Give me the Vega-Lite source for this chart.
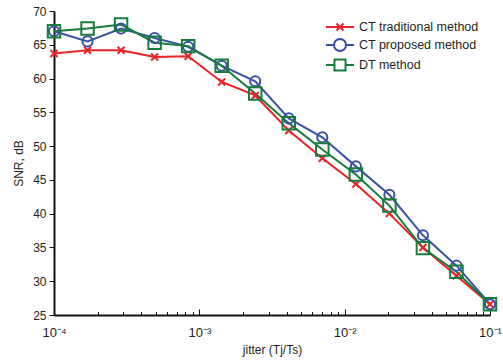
{
  "$schema": "https://vega.github.io/schema/vega-lite/v6.json",
  "autosize": "none",
  "width": 436,
  "height": 304,
  "padding": {"left": 54, "top": 11, "right": 13, "bottom": 45},
  "config": {
    "view": {"stroke": null},
    "font": "Liberation Sans",
    "axis": {"grid": false, "domainColor": "#111111", "domainWidth": 2, "tickColor": "#111111", "labelColor": "#231f20", "titleColor": "#231f20", "labelFontSize": 12, "titleFontSize": 12, "titleFontWeight": "normal", "labelFont": "Liberation Sans", "titleFont": "Liberation Sans"},
    "legend": {"labelFont": "Liberation Sans", "labelFontSize": 12.5, "labelColor": "#231f20"}
  },
  "data": {
    "values": [
      {"x": 0.0001, "series": "CT traditional method", "snr": 63.7},
      {"x": 0.0001701, "series": "CT traditional method", "snr": 64.2},
      {"x": 0.0002894, "series": "CT traditional method", "snr": 64.2},
      {"x": 0.0004924, "series": "CT traditional method", "snr": 63.2},
      {"x": 0.0008377, "series": "CT traditional method", "snr": 63.3},
      {"x": 0.001425, "series": "CT traditional method", "snr": 59.5},
      {"x": 0.002424, "series": "CT traditional method", "snr": 57.5},
      {"x": 0.004125, "series": "CT traditional method", "snr": 52.3},
      {"x": 0.007017, "series": "CT traditional method", "snr": 48.2},
      {"x": 0.01194, "series": "CT traditional method", "snr": 44.4},
      {"x": 0.02031, "series": "CT traditional method", "snr": 40.0},
      {"x": 0.03455, "series": "CT traditional method", "snr": 35.0},
      {"x": 0.05878, "series": "CT traditional method", "snr": 30.8},
      {"x": 0.1, "series": "CT traditional method", "snr": 26.6},
      {"x": 0.0001, "series": "CT proposed method", "snr": 67.0},
      {"x": 0.0001701, "series": "CT proposed method", "snr": 65.5},
      {"x": 0.0002894, "series": "CT proposed method", "snr": 67.4},
      {"x": 0.0004924, "series": "CT proposed method", "snr": 66.0},
      {"x": 0.0008377, "series": "CT proposed method", "snr": 64.7},
      {"x": 0.001425, "series": "CT proposed method", "snr": 61.9},
      {"x": 0.002424, "series": "CT proposed method", "snr": 59.6},
      {"x": 0.004125, "series": "CT proposed method", "snr": 54.1},
      {"x": 0.007017, "series": "CT proposed method", "snr": 51.3},
      {"x": 0.01194, "series": "CT proposed method", "snr": 47.0},
      {"x": 0.02031, "series": "CT proposed method", "snr": 42.8},
      {"x": 0.03455, "series": "CT proposed method", "snr": 36.8},
      {"x": 0.05878, "series": "CT proposed method", "snr": 32.3},
      {"x": 0.1, "series": "CT proposed method", "snr": 26.6},
      {"x": 0.0001, "series": "DT method", "snr": 67.0},
      {"x": 0.0001701, "series": "DT method", "snr": 67.4},
      {"x": 0.0002894, "series": "DT method", "snr": 68.0},
      {"x": 0.0004924, "series": "DT method", "snr": 65.3},
      {"x": 0.0008377, "series": "DT method", "snr": 64.8},
      {"x": 0.001425, "series": "DT method", "snr": 61.9},
      {"x": 0.002424, "series": "DT method", "snr": 57.8},
      {"x": 0.004125, "series": "DT method", "snr": 53.4},
      {"x": 0.007017, "series": "DT method", "snr": 49.5},
      {"x": 0.01194, "series": "DT method", "snr": 45.8},
      {"x": 0.02031, "series": "DT method", "snr": 41.2},
      {"x": 0.03455, "series": "DT method", "snr": 34.9},
      {"x": 0.05878, "series": "DT method", "snr": 31.4},
      {"x": 0.1, "series": "DT method", "snr": 26.6}
    ]
  },
  "encoding": {
    "x": {
      "field": "x", "type": "quantitative",
      "scale": {"type": "log", "domain": [0.0001, 0.1], "nice": false},
      "axis": {
        "title": "jitter (Tj/Ts)",
        "values": [0.0001, 0.0002, 0.0003, 0.0004, 0.0005, 0.0006, 0.0007, 0.0008, 0.0009, 0.001, 0.002, 0.003, 0.004, 0.005, 0.006, 0.007, 0.008, 0.009, 0.01, 0.02, 0.03, 0.04, 0.05, 0.06, 0.07, 0.08, 0.09, 0.1],
        "labelExpr": "abs(datum.value - 0.0001) < 1e-9 ? '10⁻⁴' : abs(datum.value - 0.001) < 1e-8 ? '10⁻³' : abs(datum.value - 0.01) < 1e-7 ? '10⁻²' : abs(datum.value - 0.1) < 1e-6 ? '10⁻¹' : ''",
        "tickSize": {"condition": {"test": "abs(log(datum.value)/LN10 - round(log(datum.value)/LN10)) < 0.001", "value": -6}, "value": -3.5},
        "labelFontSize": 13,
        "labelPadding": 17,
        "labelFlush": false,
        "labelOverlap": false,
        "labelBound": false,
        "titlePadding": 3
      }
    },
    "y": {
      "field": "snr", "type": "quantitative",
      "scale": {"domain": [25, 70], "nice": false, "zero": false},
      "axis": {"title": "SNR, dB", "values": [25, 30, 35, 40, 45, 50, 55, 60, 65, 70], "tickSize": 5, "labelPadding": 3, "titlePadding": 7}
    },
    "color": {
      "field": "series", "type": "nominal",
      "scale": {"domain": ["CT traditional method", "CT proposed method", "DT method"], "range": ["#ec2227", "#3b52a4", "#167d3a"]}
    }
  },
  "layer": [
    {
      "mark": {"type": "line", "strokeWidth": 2},
      "encoding": {"color": {"field": "series", "type": "nominal", "legend": null}, "detail": {"field": "series"}}
    },
    {
      "mark": {"type": "point", "filled": false, "strokeWidth": 2, "opacity": 1},
      "encoding": {
        "color": {"field": "series", "type": "nominal", "legend": null},
        "shape": {"field": "series", "type": "nominal", "legend": null, "scale": {"domain": ["CT traditional method", "CT proposed method", "DT method"], "range": ["M-1,-1L1,1M-1,1L1,-1", "circle", "square"]}},
        "size": {"field": "series", "type": "nominal", "legend": null, "scale": {"domain": ["CT traditional method", "CT proposed method", "DT method"], "range": [49, 156, 121]}}
      }
    },
    {
      "mark": {"type": "point", "filled": false, "strokeWidth": 2, "opacity": 0},
      "encoding": {
        "shape": {"field": "series", "type": "nominal", "title": null,
          "scale": {"domain": ["CT traditional method", "CT proposed method", "DT method"], "range": [
            "M-2,0H2M-0.5,-0.5L0.5,0.5M-0.5,0.5L0.5,-0.5",
            "M-2,0H-0.86M0.86,0H2M0.86,0L0.7945,0.3291L0.6081,0.6081L0.3291,0.7945L0,0.86L-0.3291,0.7945L-0.6081,0.6081L-0.7945,0.3291L-0.86,0L-0.7945,-0.3291L-0.6081,-0.6081L-0.3291,-0.7945L0,-0.86L0.3291,-0.7945L0.6081,-0.6081L0.7945,-0.3291Z",
            "M-2,0H-0.79M0.79,0H2M-0.79,-0.79H0.79V0.79H-0.79Z"]},
          "legend": {"orient": "none", "legendX": 278, "legendY": 8, "symbolSize": 196, "symbolOpacity": 1, "symbolStrokeWidth": 2, "symbolFillColor": "transparent", "labelOffset": 11, "rowPadding": -1, "padding": 0, "title": null}
        },
        "color": {"field": "series", "type": "nominal", "title": null,
          "legend": {"orient": "none", "legendX": 278, "legendY": 8, "symbolSize": 196, "symbolOpacity": 1, "symbolStrokeWidth": 2, "symbolFillColor": "transparent", "labelOffset": 11, "rowPadding": -1, "padding": 0, "title": null}
        }
      }
    }
  ],
  "resolve": {"scale": {"shape": "independent", "size": "independent", "color": "independent"}}
}
